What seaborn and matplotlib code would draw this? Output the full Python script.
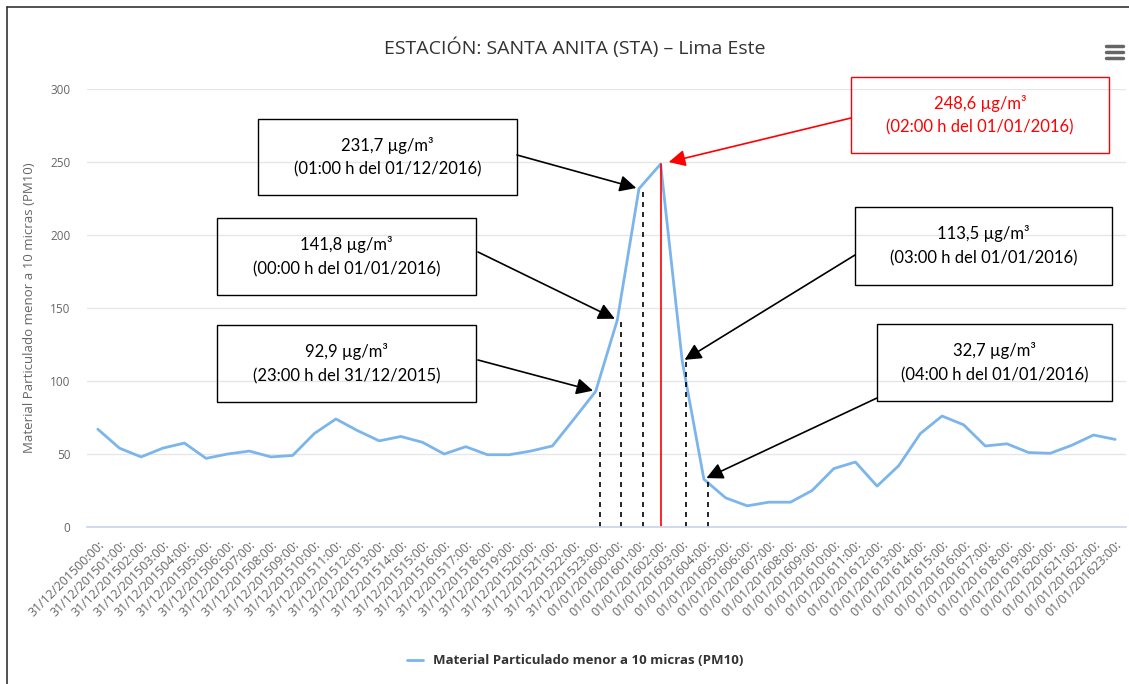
import numpy as np
import pandas as pd
import matplotlib
matplotlib.use("Agg")
import matplotlib.pyplot as plt
import seaborn as sns
from matplotlib.patches import Rectangle
from matplotlib.lines import Line2D

# data (PM10, ug/m3)
dias = ["31/12/2015"] * 24 + ["01/01/2016"] * 24
horas = ["%02d:00:" % h for h in range(24)] * 2
pm10 = [67, 54, 48, 54, 57.5, 47, 50, 52, 48, 49, 64, 74,
        66, 59, 62, 58, 50, 55, 49.5, 49.5, 52, 55.5, 74, 92.9,
        141.8, 231.7, 248.6, 113.5, 32.7, 20, 14.5, 17, 17, 25, 40, 44.5,
        28, 42, 64, 76, 70, 55.5, 57, 51, 50.5, 56, 63, 60]

etiquetas = [d + h for d, h in zip(dias, horas)]

# annotated points
marcados = [23, 24, 25, 27, 28]
textos = ["92,9 µg/m³\n(23:00 h del 31/12/2015)",
          "141,8 µg/m³\n(00:00 h del 01/01/2016)",
          "231,7 µg/m³\n(01:00 h del 01/12/2016)",
          "113,5 µg/m³\n(03:00 h del 01/01/2016)",
          "32,7 µg/m³\n(04:00 h del 01/01/2016)"]
maximo = 26
texto_max = "248,6 µg/m³\n(02:00 h del 01/01/2016)"

df = pd.DataFrame({"i": range(len(pm10)), "pm10": pm10})

sns.set_theme(style="white")
plt.rcParams["font.family"] = ["Open Sans", "DejaVu Sans"]

W, H = 1129, 684
fig = plt.figure(figsize=(W / 100, H / 100), dpi=100)
ax = fig.add_axes([87 / W, 1 - 527 / H, 1039 / W, 438 / H])

sns.lineplot(data=df, x="i", y="pm10", ax=ax, color="#7cb5ec", lw=2,
             label="Material Particulado menor a 10 micras (PM10)")

ax.set_xlim(-0.5, len(pm10) - 0.5)
ax.set_ylim(0, 300)
ax.set_yticks(range(0, 301, 50))
ax.yaxis.grid(True, color="#e6e6e6", lw=1)
for s in ["top", "right", "left"]:
    ax.spines[s].set_visible(False)
ax.spines["bottom"].set_color("#ccd6eb")
ax.tick_params(axis="y", length=0, labelsize=8.5, labelcolor="#666666", pad=12)

ax.set_xticks(df["i"])
ax.set_xticklabels(etiquetas, rotation=45, ha="right", rotation_mode="anchor",
                   fontsize=9, color="#666666")
ax.set_xticks(np.arange(-0.5, len(pm10), 1), minor=True)
ax.tick_params(axis="x", which="major", length=0, pad=8)
ax.tick_params(axis="x", which="minor", length=10, color="#ccd6eb", width=1)
ax.set_xlabel("")
ax.set_ylabel("Material Particulado menor a 10 micras (PM10)", fontsize=9.5,
              color="#666666", labelpad=10)

# dashed guides and red peak line
for i in marcados:
    ax.plot([i + 0.18, i + 0.18], [0, pm10[i]], ls=(0, (3, 3)), color="black", lw=1.2)
ax.plot([maximo, maximo], [0, pm10[maximo]], color="red", lw=1.2)

# annotation boxes (figure pixels: left, top, right, bottom) and arrow start
cajas = [(217, 325, 476, 402), (217, 218, 476, 295), (258, 119, 517, 195),
         (855, 207, 1112, 285), (877, 324, 1112, 401)]
salidas = [(478, 360), (478, 252), (517, 155), (855, 255), (877, 398)]
caja_max = (851, 77, 1109, 153)
salida_max = (851, 118)

def caja(b, txt, color):
    x0, y0, x1, y1 = b
    fig.add_artist(Rectangle((x0 / W, 1 - y1 / H), (x1 - x0) / W, (y1 - y0) / H,
                             transform=fig.transFigure, fill=False,
                             ec=color, lw=1))
    fig.text((x0 + x1) / 2 / W, 1 - (y0 + y1) / 2 / H, txt, ha="center",
             va="center", fontsize=12, color=color, linespacing=1.6,
             family=["Lato", "DejaVu Sans"])

for i, txt, b, s in zip(marcados, textos, cajas, salidas):
    caja(b, txt, "black")
    ax.annotate("", xy=(i, pm10[i]), xytext=(s[0], H - s[1]),
                textcoords="figure pixels",
                arrowprops=dict(arrowstyle="-|>", color="black", lw=1.2,
                                mutation_scale=25, shrinkA=0, shrinkB=2))
caja(caja_max, texto_max, "red")
ax.annotate("", xy=(maximo, pm10[maximo]), xytext=(salida_max[0], H - salida_max[1]),
            textcoords="figure pixels",
            arrowprops=dict(arrowstyle="-|>", color="red", lw=1.2,
                            mutation_scale=25, shrinkA=0, shrinkB=6))

fig.text(575 / W, 1 - 48 / H, "ESTACIÓN: SANTA ANITA (STA) – Lima Este",
         ha="center", va="center", fontsize=14, color="#333333")

leg = ax.legend(loc="center", bbox_to_anchor=(0.47, (527 - 661) / 438), frameon=False,
                prop={"weight": "bold", "size": 9.5}, handlelength=1.2)
for t in leg.get_texts():
    t.set_color("#333333")

# menu icon
for yy in (46, 52, 58):
    fig.add_artist(Line2D([1106 / W, 1123 / W], [1 - yy / H] * 2, color="#666666",
                          lw=2.5, transform=fig.transFigure))
# screenshot border
fig.add_artist(Line2D([7 / W, 7 / W], [0, 1 - 7 / H], color="#333333", lw=1.2,
                      transform=fig.transFigure))
fig.add_artist(Line2D([7 / W, 1], [1 - 7 / H] * 2, color="#333333", lw=1.2,
                      transform=fig.transFigure))

fig.savefig("out.png", dpi=100)
